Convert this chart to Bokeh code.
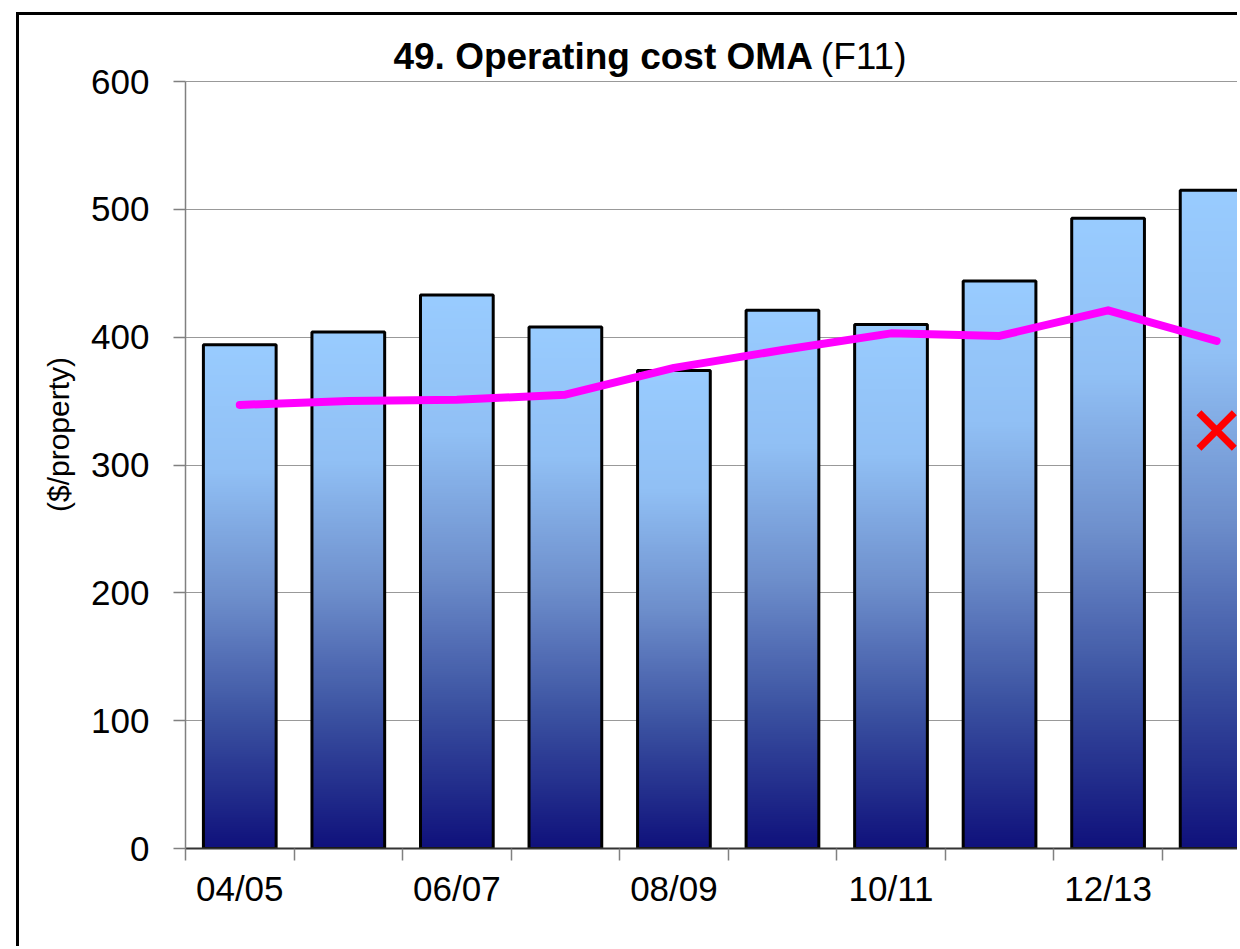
import numpy as np
from bokeh.plotting import figure
from bokeh.models import Range1d, FixedTicker, Label
from bokeh.embed import file_html
from bokeh.resources import INLINE

# ---- data ----
years = ["04/05", "05/06", "06/07", "07/08", "08/09", "09/10", "10/11", "11/12", "12/13", "13/14"]
cost = [394, 404, 433, 408, 374, 421, 410, 444, 493, 515]
trend = [347, 350, 351, 355, 376, 390, 403, 401, 421, 397]
target_year = ["13/14"]
target = [327]
y_ticks = [0, 100, 200, 300, 400, 500, 600]
labelled_years = years[::2]

FONT = "Liberation Sans Narrow, Liberation Sans, sans-serif"

xpos = [i + 0.5 for i in range(len(years))]
bar_w = 0.67

# frame extended above 600 so the title can sit inside it (axis is bounded to 0..600)
H, TOP, BOTTOM = 934, 5, 101
y_max = max(y_ticks)
y_top = y_max * (H - TOP - BOTTOM) / 767.0

p = figure(width=1221, height=H, output_backend="svg", toolbar_location=None,
           x_range=Range1d(0, 9.72), y_range=Range1d(0, y_top),
           min_border_left=166, min_border_right=0, min_border_top=TOP, min_border_bottom=BOTTOM)
p.styles = {"margin-left": "16px", "margin-top": "12px",
            "border-top": "3px solid black", "border-left": "3px solid black"}
p.title.visible = False
p.outline_line_color = None
p.background_fill_color = "white"
p.border_fill_color = "white"

# gradient image for bars (bottom dark navy -> top light blue)
stops_t = [0.0, 0.25, 0.5, 0.75, 1.0]
stops_c = [(16, 18, 124), (58, 80, 160), (110, 143, 204), (145, 192, 245), (153, 204, 255)]
N = 256
t = np.linspace(0, 1, N)
img = np.zeros((N, 1), dtype=np.uint32)
view = img.view(dtype=np.uint8).reshape((N, 1, 4))
for ch in range(3):
    view[:, 0, ch] = np.interp(t, stops_t, [c[ch] for c in stops_c]).astype(np.uint8)
view[:, 0, 3] = 255

p.image_rgba(image=[img] * len(years), x=[x - bar_w / 2 for x in xpos], y=[0] * len(years),
             dw=[bar_w] * len(years), dh=cost)
p.vbar(x=xpos, top=cost, width=bar_w, fill_alpha=0, line_color="black", line_width=3)

p.line(xpos, trend, line_color="#FF00FF", line_width=8, line_join="round", line_cap="round")
tx = [xpos[years.index(y)] for y in target_year]
p.scatter(x=tx, y=target, marker="x", size=50, line_color="#FF0000", line_width=7)

# grid
p.xgrid.visible = False
p.ygrid.grid_line_color = "#333333"
p.ygrid.grid_line_dash = "1 1"
p.ygrid.grid_line_width = 1
p.ygrid.ticker = FixedTicker(ticks=y_ticks)

# y axis
p.yaxis.ticker = FixedTicker(ticks=y_ticks)
p.yaxis.bounds = (0, y_max)
p.yaxis.axis_line_color = "#808080"
p.yaxis.axis_line_width = 1.5
p.yaxis.major_tick_line_color = "#808080"
p.yaxis.major_tick_line_width = 1.5
p.yaxis.major_tick_in = 0
p.yaxis.major_tick_out = 12
p.yaxis.minor_tick_line_color = None
p.yaxis.major_label_text_font = FONT
p.yaxis.major_label_text_font_size = "35px"
p.yaxis.major_label_text_color = "black"
p.yaxis.major_label_standoff = 24
p.yaxis.axis_label = "($/property)"
p.yaxis.axis_label_text_font = FONT
p.yaxis.axis_label_text_font_size = "30px"
p.yaxis.axis_label_text_font_style = "normal"
p.yaxis.axis_label_text_color = "black"
p.yaxis.axis_label_standoff = 13

# x axis
p.xaxis.ticker = FixedTicker(ticks=[xpos[years.index(y)] for y in labelled_years],
                             minor_ticks=list(range(len(years))))
p.xaxis.major_label_overrides = {xpos[years.index(y)]: y for y in labelled_years}
p.xaxis.axis_line_color = "#333333"
p.xaxis.axis_line_width = 2
p.xaxis.major_tick_line_color = None
p.xaxis.major_tick_in = 0
p.xaxis.major_tick_out = 0
p.xaxis.minor_tick_line_color = "#808080"
p.xaxis.minor_tick_line_width = 1.5
p.xaxis.minor_tick_in = 0
p.xaxis.minor_tick_out = 12
p.xaxis.major_label_text_font = FONT
p.xaxis.major_label_text_font_size = "35px"
p.xaxis.major_label_text_color = "black"
p.xaxis.major_label_standoff = 8

# title (bold part + normal part)
p.add_layout(Label(x=5.78, y=y_max, y_offset=25, text="49. Operating cost OMA", text_align="right",
                   text_baseline="alphabetic", text_font=FONT, text_font_size="37px",
                   text_font_style="bold", text_color="black"))
p.add_layout(Label(x=5.78, y=y_max, x_offset=8, y_offset=25, text="(F11)", text_align="left",
                   text_baseline="alphabetic", text_font=FONT, text_font_size="37px",
                   text_font_style="normal", text_color="black"))

open("out.html", "w").write(file_html(p, INLINE))
